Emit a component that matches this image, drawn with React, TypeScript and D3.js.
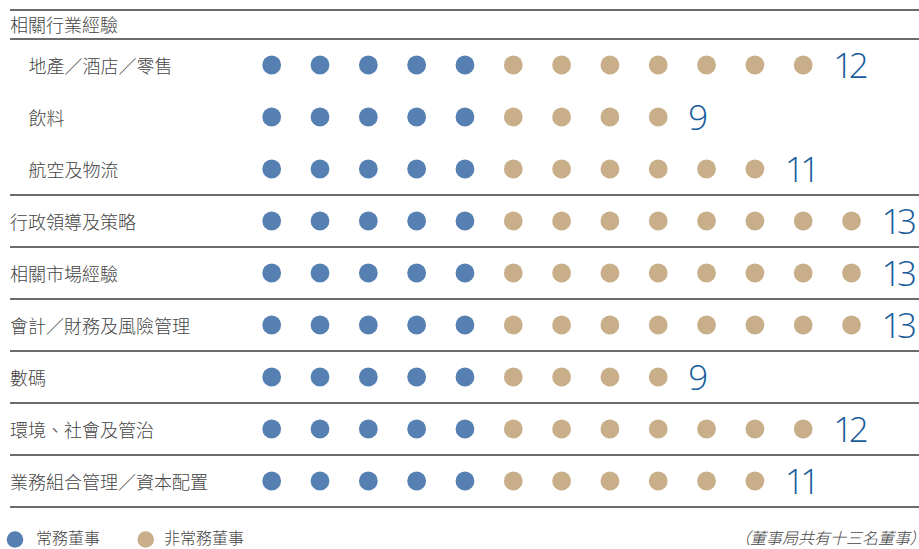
import React from "react";
import * as d3 from "d3";

const headerLabel = "相關行業經驗";
const categories = [
  "地產／酒店／零售",
  "飲料",
  "航空及物流",
  "行政領導及策略",
  "相關市場經驗",
  "會計／財務及風險管理",
  "數碼",
  "環境、社會及管治",
  "業務組合管理／資本配置",
];
const isSubRow = [true, true, true, false, false, false, false, false, false];
const executiveCounts = [5, 5, 5, 5, 5, 5, 5, 5, 5];
const nonExecutiveCounts = [7, 4, 6, 8, 8, 8, 4, 7, 6];
const legendLabels = ["常務董事", "非常務董事"];
const footnote = "（董事局共有十三名董事）";

const W = 919;
const H = 549;
const BLUE = "#5580b1";
const TAN = "#c8af89";
const NUM = "#175c9b";
const LINE = "#3a3a3a";
const TEXT = "#444";
const FONT = "'Noto Sans CJK TC', 'Noto Sans CJK SC', sans-serif";

export default function App() {
  const x = d3.scaleLinear().domain([0, 12]).range([271.7, 851.5]);
  const y = d3.scaleLinear().domain([0, categories.length - 1]).range([65, 481]);
  const rowH = y(1) - y(0);
  const r = 9.4;

  const separators: number[] = [10, 39];
  categories.forEach((_, i) => {
    if (i >= 2) separators.push(y(i) + rowH / 2);
  });

  const legendY = 537.5;

  return (
    <svg
      width={W}
      height={H}
      style={{ position: "absolute", left: 0, top: 0, background: "#fff" }}
    >
      {separators.map((sy, i) => (
        <line key={i} x1={10} x2={W} y1={sy} y2={sy} stroke={LINE} strokeWidth={1.3} />
      ))}
      <text x={10} y={24} dy="0.42em" fontFamily={FONT} fontSize={18} fontWeight={300} fill={TEXT}>
        {headerLabel}
      </text>
      {categories.map((c, i) => {
        const total = executiveCounts[i] + nonExecutiveCounts[i];
        const cy = y(i);
        return (
          <g key={c}>
            <text
              x={isSubRow[i] ? 28.5 : 10}
              y={cy}
              dy="0.42em"
              fontFamily={FONT}
              fontSize={18}
              fontWeight={300}
              fill={TEXT}
            >
              {c}
            </text>
            {d3.range(total).map((k) => (
              <circle
                key={k}
                cx={x(k)}
                cy={cy}
                r={r}
                fill={k < executiveCounts[i] ? BLUE : TAN}
              />
            ))}
            <text
              x={x(total - 1) + 30}
              y={cy + 12.5}
              fontFamily="'Open Sans', sans-serif"
              fontSize={35}
              fontWeight={300}
              letterSpacing={-4.5}
              fill={NUM}
            >
              {total}
            </text>
          </g>
        );
      })}
      <circle cx={15} cy={legendY + 2} r={8.3} fill={BLUE} />
      <text x={36} y={legendY} dy="0.42em" fontFamily={FONT} fontSize={16} fontWeight={300} fill={TEXT}>
        {legendLabels[0]}
      </text>
      <circle cx={145.7} cy={legendY + 2} r={8.3} fill={TAN} />
      <text x={164} y={legendY} dy="0.42em" fontFamily={FONT} fontSize={16} fontWeight={300} fill={TEXT}>
        {legendLabels[1]}
      </text>
      <text
        x={W - 1}
        y={legendY}
        dy="0.42em"
        textAnchor="end"
        fontFamily={FONT}
        fontSize={16}
        fontStyle="italic"
        fontWeight={300}
        fill={TEXT}
        style={{ fontFeatureSettings: "'palt'" }}
      >
        {footnote}
      </text>
    </svg>
  );
}
